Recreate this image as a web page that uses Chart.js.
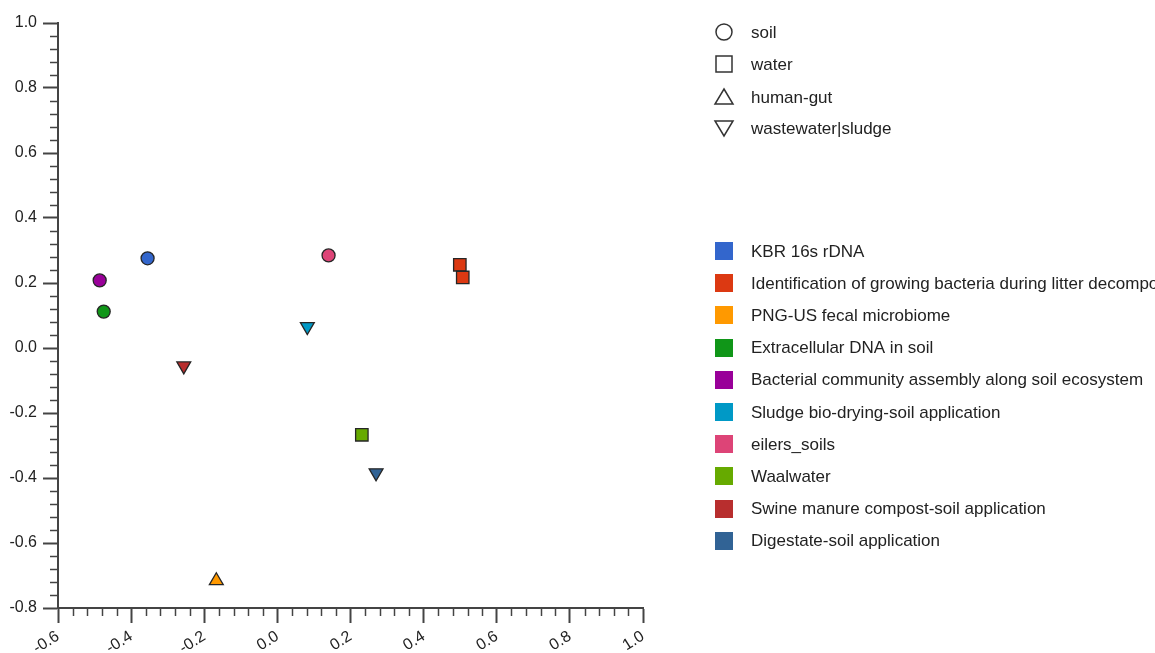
<!DOCTYPE html>
<html>
<head>
<meta charset="utf-8">
<script src="https://cdn.jsdelivr.net/npm/chart.js@4"></script>
<style>
  html, body { margin: 0; padding: 0; background: #ffffff; }
  #wrap { width: 1155px; height: 653px; }
</style>
</head>
<body>
<div id="wrap"><canvas id="c" width="1155" height="653"></canvas></div>
<script>
// ---- data ----
const shapeNames = ['soil', 'water', 'human-gut', 'wastewater|sludge'];
const shapeStyles = ['circle', 'rect', 'triangle', 'triangleDown'];

const categories = [
  'KBR 16s rDNA',
  'Identification of growing bacteria during litter decomposition',
  'PNG-US fecal microbiome',
  'Extracellular DNA in soil',
  'Bacterial community assembly along soil ecosystem',
  'Sludge bio-drying-soil application',
  'eilers_soils',
  'Waalwater',
  'Swine manure compost-soil application',
  'Digestate-soil application'
];
const categoryColors = ['#3366CC', '#DC3912', '#FF9900', '#109618', '#990099',
                        '#0099C6', '#DD4477', '#66AA00', '#B82E2E', '#316395'];
const categoryShape = ['soil', 'water', 'human-gut', 'soil', 'soil',
                       'wastewater|sludge', 'soil', 'water', 'wastewater|sludge', 'wastewater|sludge'];
const pointsX = [[-0.355], [0.499, 0.507], [-0.167], [-0.475], [-0.486],
                 [0.082], [0.140], [0.231], [-0.256], [0.270]];
const pointsY = [[0.276], [0.256, 0.217], [-0.716], [0.112], [0.208],
                 [0.066], [0.285], [-0.267], [-0.055], [-0.384]];

const xTickLabels = ['-0.6', '-0.4', '-0.2', '0.0', '0.2', '0.4', '0.6', '0.8', '1.0'];
const yTickLabels = ['-0.8', '-0.6', '-0.4', '-0.2', '0.0', '0.2', '0.4', '0.6', '0.8', '1.0'];

// ---- build ----
const FONT = "'Liberation Sans', Arial, sans-serif";
const styleFor = s => {
  const st = shapeStyles[shapeNames.indexOf(s)];
  if (st === 'circle') return { pointStyle: 'circle', radius: 6.5, rotation: 0 };
  if (st === 'rect') return { pointStyle: 'rect', radius: 8.8, rotation: 0 };
  if (st === 'triangle') return { pointStyle: 'triangle', radius: 8, rotation: 0 };
  return { pointStyle: 'triangle', radius: 8, rotation: 180 };
};

const datasets = categories.map((name, i) => {
  const st = styleFor(categoryShape[i]);
  return {
    label: name,
    data: pointsX[i].map((x, j) => ({ x: x, y: pointsY[i][j] })),
    backgroundColor: categoryColors[i],
    borderColor: '#262626',
    borderWidth: 1.3,
    pointStyle: st.pointStyle,
    pointRadius: st.radius,
    pointHoverRadius: st.radius,
    rotation: st.rotation
  };
});

const fmt = v => (Math.abs(v) < 1e-9 ? '0.0' : v.toFixed(1));

// minor ticks + legends
const decorPlugin = {
  id: 'decor',
  afterDraw(chart) {
    const ctx = chart.ctx;
    const xs = chart.scales.x, ys = chart.scales.y;
    const area = chart.chartArea;
    ctx.save();
    ctx.strokeStyle = '#444';
    ctx.lineWidth = 1.5;
    for (let i = 0; i <= 40; i++) {
      if (i % 5 === 0) continue;
      const v = xs.min + i * 0.04;
      const px = Math.round(xs.getPixelForValue(v)) + 0.5;
      ctx.beginPath();
      ctx.moveTo(px, area.bottom);
      ctx.lineTo(px, area.bottom + 8);
      ctx.stroke();
    }
    for (let i = 0; i <= 45; i++) {
      if (i % 5 === 0) continue;
      const v = ys.min + i * 0.04;
      const py = Math.round(ys.getPixelForValue(v)) + 0.5;
      ctx.beginPath();
      ctx.moveTo(area.left, py);
      ctx.lineTo(area.left - 8, py);
      ctx.stroke();
    }

    // shape legend
    ctx.font = '17px ' + FONT;
    ctx.textBaseline = 'middle';
    ctx.textAlign = 'left';
    const shapeRowY = [32, 64, 97, 128];
    shapeNames.forEach((n, i) => {
      const cx = 724, cy = shapeRowY[i];
      const st = shapeStyles[i];
      ctx.strokeStyle = '#333';
      ctx.lineWidth = 1.5;
      ctx.beginPath();
      if (st === 'circle') {
        ctx.arc(cx, cy, 8, 0, Math.PI * 2);
      } else if (st === 'rect') {
        ctx.rect(cx - 8, cy - 8, 16, 16);
      } else if (st === 'triangle') {
        ctx.moveTo(cx, cy - 8);
        ctx.lineTo(cx + 9, cy + 7);
        ctx.lineTo(cx - 9, cy + 7);
        ctx.closePath();
      } else {
        ctx.moveTo(cx - 9, cy - 7);
        ctx.lineTo(cx + 9, cy - 7);
        ctx.lineTo(cx, cy + 8);
        ctx.closePath();
      }
      ctx.stroke();
      ctx.fillStyle = '#222';
      ctx.fillText(n, 751, cy + 1);
    });

    // colour legend
    categories.forEach((n, i) => {
      const cy = 251 + i * 32.2;
      ctx.fillStyle = categoryColors[i];
      ctx.fillRect(715, Math.round(cy - 9), 18, 18);
      ctx.fillStyle = '#222';
      ctx.fillText(n, 751, cy + 1);
    });
    ctx.restore();
  }
};

new Chart(document.getElementById('c'), {
  type: 'scatter',
  data: { datasets: datasets },
  options: {
    responsive: false,
    animation: false,
    devicePixelRatio: 1,
    layout: { padding: { top: 23, right: 512, left: 0, bottom: 0 } },
    plugins: { legend: { display: false }, tooltip: { enabled: false } },
    scales: {
      x: {
        type: 'linear', position: 'bottom', min: -0.6, max: 1.0,
        afterBuildTicks: s => { s.ticks = xTickLabels.map(t => ({ value: parseFloat(t) })); },
        ticks: {
          color: '#222', padding: 4, minRotation: 32, maxRotation: 32,
          font: { family: FONT, size: 16 },
          callback: v => fmt(v)
        },
        grid: { drawOnChartArea: false, drawTicks: true, tickLength: 15, tickColor: '#444', tickWidth: 2 },
        border: { display: true, color: '#444', width: 2 },
        afterFit: s => { s.height = 45; }
      },
      y: {
        type: 'linear', position: 'left', min: -0.8, max: 1.0,
        afterBuildTicks: s => { s.ticks = yTickLabels.map(t => ({ value: parseFloat(t) })); },
        ticks: {
          color: '#222', padding: 6,
          font: { family: FONT, size: 16 },
          callback: v => fmt(v)
        },
        grid: { drawOnChartArea: false, drawTicks: true, tickLength: 15, tickColor: '#444', tickWidth: 2 },
        border: { display: true, color: '#444', width: 2 },
        afterFit: s => { s.width = 58; }
      }
    }
  },
  plugins: [decorPlugin]
});
</script>
</body>
</html>
